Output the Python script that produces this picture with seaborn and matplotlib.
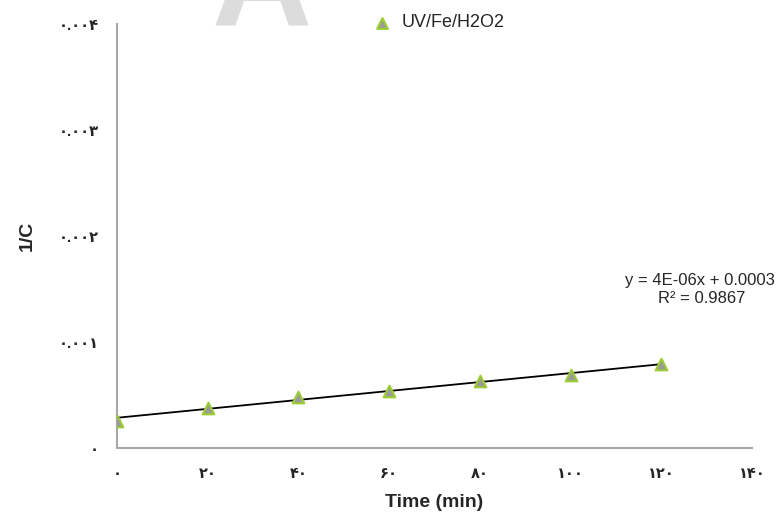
import numpy as np
import pandas as pd
import matplotlib
matplotlib.use("Agg")
import matplotlib.pyplot as plt
import seaborn as sns

# Dados (1/C em função do tempo)
time_min = [0, 20, 40, 60, 80, 100, 120]
inv_c = [0.00026, 0.00038, 0.00048, 0.00054, 0.00063, 0.00069, 0.00079]
series_name = "UV/Fe/H2O2"

x_ticks = [0, 20, 40, 60, 80, 100, 120, 140]
x_tick_labels = ["۰", "۲۰", "۴۰", "۶۰", "۸۰", "۱۰۰", "۱۲۰", "۱۴۰"]
y_ticks = [0, 0.001, 0.002, 0.003, 0.004]
y_tick_labels = ["۰", "۰.۰۰۱", "۰.۰۰۲", "۰.۰۰۳", "۰.۰۰۴"]

eq_text = "y = 4E-06x + 0.0003"
r2_text = "R² = 0.9867"


def main():
    sns.set_theme(style="white")
    plt.rcParams["font.family"] = ["Liberation Sans", "DejaVu Sans"]

    df = pd.DataFrame({"Time": time_min, "InvC": inv_c})

    fig = plt.figure(figsize=(7.8, 5.15), dpi=100)
    ax = fig.add_axes([0.15, 0.130, 0.814, 0.823])

    # marca d'água ao fundo
    fig.text(0.335, 0.948, "A", fontsize=100, fontweight="bold", color="#dcdcdc",
             ha="center", va="baseline", zorder=0)

    sns.regplot(data=df, x="Time", y="InvC", scatter=False, ci=None, ax=ax,
                color="black", line_kws={"linewidth": 1.3})
    sns.scatterplot(data=df, x="Time", y="InvC", ax=ax, marker="^", s=70,
                    color="#9a9a9a", edgecolor="#9acd32", linewidth=1.5,
                    label=series_name, zorder=3)

    ax.set_xlim(0, 140)
    ax.set_ylim(0, 0.004)
    ax.set_xticks(x_ticks)
    ax.set_xticklabels(x_tick_labels, fontweight="bold", fontsize=10.5)
    ax.set_yticks(y_ticks)
    ax.set_yticklabels(y_tick_labels, fontweight="bold", fontsize=10.5)
    ax.tick_params(axis="x", direction="out", length=5, width=1, color="#a0a0a0", pad=9)
    ax.tick_params(axis="y", direction="out", length=5, width=1, color="#a0a0a0", pad=8)

    for side in ["top", "right"]:
        ax.spines[side].set_visible(False)
    for side in ["left", "bottom"]:
        ax.spines[side].set_color("#a8a8a8")
        ax.spines[side].set_linewidth(1.5)

    ax.set_xlabel("Time (min)", fontsize=14, fontweight="bold")
    ax.xaxis.set_label_coords(0.5, -0.108)
    ax.set_ylabel("1/C", fontsize=14, fontweight="bold")
    ax.yaxis.set_label_coords(-0.128, 0.5)

    ax.text(112.1, 0.00158, eq_text, fontsize=12, ha="left", va="center")
    ax.text(129.0, 0.00141, r2_text, fontsize=12, ha="center", va="center")

    leg = ax.legend(loc="upper center", bbox_to_anchor=(0.5, 1.04), frameon=False,
                    fontsize=13, handletextpad=0.1, borderaxespad=0)
    for h in leg.legend_handles:
        h.set_sizes([60])

    fig.savefig("out.png", dpi=100)
    plt.close(fig)


if __name__ == "__main__":
    main()
